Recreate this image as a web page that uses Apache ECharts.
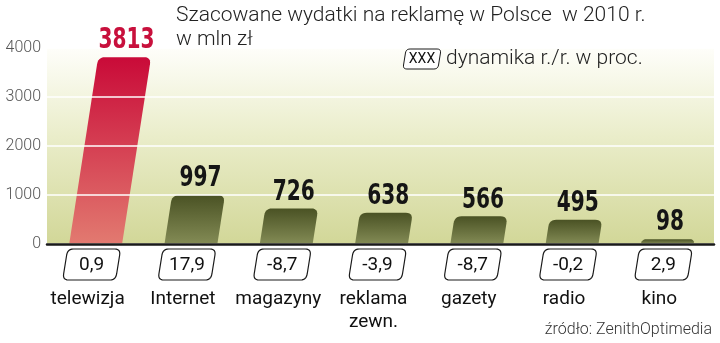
<!DOCTYPE html>
<html>
<head>
<meta charset="utf-8">
<script src="https://cdn.jsdelivr.net/npm/echarts@6/dist/echarts.min.js"></script>
<style>html,body{margin:0;padding:0;background:#fff}#c{width:720px;height:343px}</style>
</head>
<body>
<div id="c"></div>
<script>
const categories = ['telewizja', 'Internet', 'magazyny', 'reklama\nzewn.', 'gazety', 'radio', 'kino'];
const values = [3813, 997, 726, 638, 566, 495, 98];
const dynamics = ['0,9', '17,9', '-8,7', '-3,9', '-8,7', '-0,2', '2,9'];
const yMin = 0, yMax = 4000, yInterval = 1000;

const NUM_FONT = "'Liberation Sans Narrow', 'DejaVu Sans Condensed', sans-serif";
const TXT_FONT = "Roboto, 'Noto Sans', sans-serif";

function quad(p0, c, p1, out) {
  for (let k = 0; k <= 6; k++) {
    const t = k / 6, u = 1 - t;
    out.push([u * u * p0[0] + 2 * u * t * c[0] + t * t * p1[0], u * u * p0[1] + 2 * u * t * c[1] + t * t * p1[1]]);
  }
}

function slantBox(cx, y0, y1, w, s, r) {
  const ym = (y0 + y1) / 2;
  const xl = y => cx - w / 2 + s * (ym - y);
  const TL = [xl(y0), y0], TR = [xl(y0) + w, y0], BR = [xl(y1) + w, y1], BL = [xl(y1), y1];
  const pts = [];
  quad([TL[0] - s * r, y0 + r], TL, [TL[0] + r, y0], pts);
  quad([TR[0] - r, y0], TR, [TR[0] - s * r, y0 + r], pts);
  quad([BR[0] + s * r, y1 - r], BR, [BR[0] - r, y1], pts);
  quad([BL[0] + r, y1], BL, [BL[0] + s * r, y1 - r], pts);
  return pts;
}

function barPoints(xl, xr, yb, yt, s, r) {
  const h = yb - yt;
  const dx = s * h;
  r = Math.min(r, h);
  const pts = [[xl, yb]];
  quad([xl + dx - s * r, yt + r], [xl + dx, yt], [xl + dx + r, yt], pts);
  quad([xr + dx - r, yt], [xr + dx, yt], [xr + dx - s * r, yt + r], pts);
  pts.push([xr, yb]);
  return pts;
}

const SLANT = 0.155;

function geom(api) {
  const v = api.value(1);
  const base = api.coord([api.value(0), 0]);
  const top = api.coord([api.value(0), v]);
  const band = api.size([1, 0])[0];
  const cx = base[0] + 1;
  return { v, base, top, band, cx, yb: base[1], yt: top[1], h: base[1] - top[1] };
}

function renderBar(params, api) {
  const g = geom(api);
  const bw = g.band * 0.555;
  const isTv = params.dataIndex === 0;
  const fill = new echarts.graphic.LinearGradient(0, 0, 0, 1, isTv
    ? [{ offset: 0, color: '#c90a38' }, { offset: 1, color: '#e27a70' }]
    : [{ offset: 0, color: '#4a5224' }, { offset: 1, color: '#838b55' }]);
  return {
    type: 'polygon',
    shape: { points: barPoints(g.cx - bw / 2, g.cx + bw / 2, g.yb, g.yt, SLANT, 7) },
    style: { fill: fill }
  };
}

function renderLabels(params, api) {
  const idx = params.dataIndex;
  const g = geom(api);
  const isTv = idx === 0;
  const topCx = g.cx + SLANT * g.h;
  return {
    type: 'group',
    children: [
      {
        type: 'text',
        x: topCx + 2,
        y: g.yt - 2,
        scaleX: 0.8,
        style: {
          text: String(g.v),
          fill: isTv ? '#c8103c' : '#151515',
          fontSize: 28,
          fontWeight: 'bold',
          fontFamily: NUM_FONT,
          align: 'center',
          verticalAlign: 'bottom'
        }
      },
      {
        type: 'polygon',
        shape: { points: slantBox(g.base[0] - 3, g.yb + 5, g.yb + 36, 53, 0.16, 6) },
        style: { fill: '#ffffff', stroke: '#1a1a1a', lineWidth: 1.2 }
      },
      {
        type: 'text',
        x: g.base[0] - 3,
        y: g.yb + 21,
        style: {
          text: dynamics[idx],
          fill: '#111',
          fontSize: 19,
          fontFamily: TXT_FONT,
          align: 'center',
          verticalAlign: 'middle'
        }
      }
    ]
  };
}

const seriesData = values.map((v, i) => [i, v]);

const chart = echarts.init(document.getElementById('c'), null, { renderer: 'canvas' });
chart.setOption({
  animation: false,
  backgroundColor: '#ffffff',
  title: {
    text: 'Szacowane wydatki na reklamę w Polsce  w 2010 r.\nw mln zł',
    left: 171, top: -1,
    textStyle: { fontSize: 21, fontWeight: 300, fontFamily: TXT_FONT, color: '#222', lineHeight: 24 }
  },
  grid: {
    left: 47, right: 6, top: 48, bottom: 99,
    show: true, borderWidth: 0,
    backgroundColor: new echarts.graphic.LinearGradient(0, 0, 0, 1, [
      { offset: 0, color: '#fefefa' },
      { offset: 0.45, color: '#eaedca' },
      { offset: 1, color: '#d2d798' }
    ])
  },
  xAxis: {
    type: 'category',
    data: categories,
    z: 4,
    axisLine: { show: true, lineStyle: { color: '#1a1a1a', width: 2.5 } },
    axisTick: { show: false },
    axisLabel: {
      interval: 0,
      margin: 44,
      padding: [0, 14, 0, 0],
      fontSize: 19, color: '#111', fontFamily: TXT_FONT, lineHeight: 23
    }
  },
  yAxis: {
    type: 'value',
    min: yMin, max: yMax, interval: yInterval,
    z: 3,
    axisLine: { show: false },
    axisTick: { show: false },
    axisLabel: { margin: 6, fontSize: 16, color: '#555', fontWeight: 300, fontFamily: TXT_FONT, formatter: (val) => String(val) },
    splitLine: { show: true, lineStyle: { color: '#ffffff', width: 1.5 } }
  },
  graphic: [
    {
      type: 'polygon', z: 10,
      shape: { points: slantBox(422, 49, 69, 35, 0.16, 4) },
      style: { fill: '#fff', stroke: '#1a1a1a', lineWidth: 1 }
    },
    {
      type: 'text', z: 10, x: 422, y: 59,
      style: { text: 'XXX', fontSize: 14, fontFamily: TXT_FONT, fill: '#111', align: 'center', verticalAlign: 'middle' }
    },
    {
      type: 'text', z: 10, x: 446, y: 59,
      style: { text: 'dynamika r./r. w proc.', fontSize: 21, fontWeight: 300, fontFamily: TXT_FONT, fill: '#222', align: 'left', verticalAlign: 'middle' }
    },
    {
      type: 'text', z: 10, right: 8, bottom: 5,
      style: { text: 'źródło: ZenithOptimedia', fontSize: 16, fontWeight: 300, fontFamily: TXT_FONT, fill: '#333' }
    }
  ],
  series: [
    { type: 'custom', z: 2, clip: false, renderItem: renderBar, data: seriesData },
    { type: 'custom', z: 6, clip: false, renderItem: renderLabels, data: seriesData }
  ]
});
</script>
</body>
</html>
